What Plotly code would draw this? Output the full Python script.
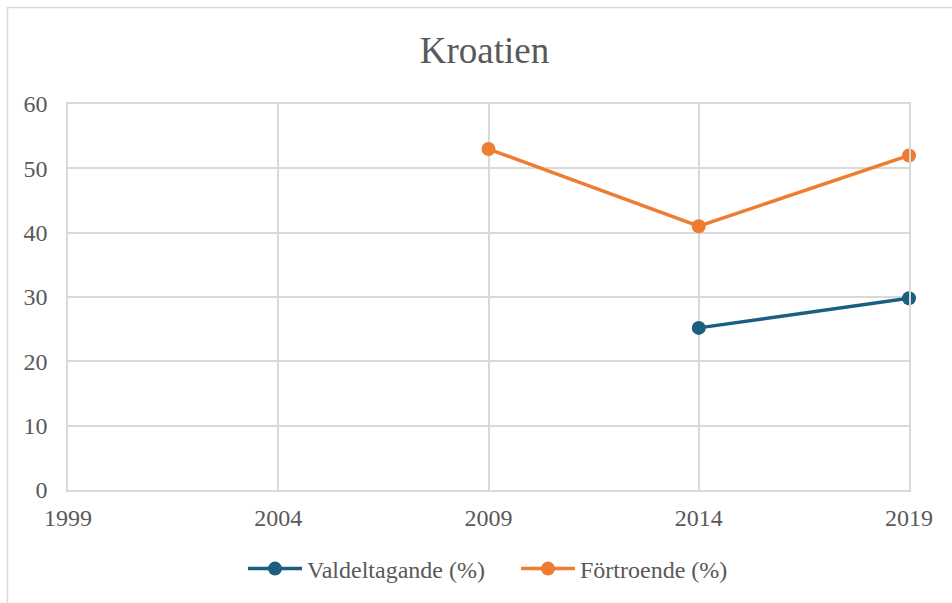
import plotly.graph_objects as go

years_val = [2014, 2019]
valdeltagande = [25.2, 29.8]
years_fort = [2009, 2014, 2019]
fortroende = [53, 41, 52]
x_ticks = [1999, 2004, 2009, 2014, 2019]
y_ticks = [0, 10, 20, 30, 40, 50, 60]

BLUE = "#1a5e80"
ORANGE = "#ed7d31"
GRID = "#d9d9d9"
TXT = "#595959"
FONT = '"Liberation Serif", "Times New Roman", Times, serif'

fig = go.Figure()
fig.add_trace(go.Scatter(x=years_val, y=valdeltagande, mode="lines+markers",
                         name="Valdeltagande (%)", cliponaxis=False,
                         line=dict(color=BLUE, width=3.5),
                         marker=dict(color=BLUE, size=14)))
fig.add_trace(go.Scatter(x=years_fort, y=fortroende, mode="lines+markers",
                         name="Förtroende (%)", cliponaxis=False,
                         line=dict(color=ORANGE, width=3.5),
                         marker=dict(color=ORANGE, size=14)))

L, R, T, B = 68, 909, 104, 490
W, H = 952, 603
pw, ph = R - L, B - T

fig.add_shape(type="rect", xref="paper", yref="paper",
              x0=(7.5 - L) / pw, x1=(W + 20 - L) / pw,
              y0=(B - (H + 20)) / ph, y1=(B - 7.5) / ph,
              line=dict(color=GRID, width=1.5), fillcolor="rgba(0,0,0,0)", layer="below")

fig.update_layout(
    width=W, height=H,
    margin=dict(l=L, r=W - R, t=T, b=H - B, autoexpand=False),
    paper_bgcolor="white", plot_bgcolor="white",
    font=dict(family=FONT, color=TXT, size=24),
    title=dict(text="Kroatien", x=484.5 / W, xanchor="center",
               y=1 - 50 / H, yanchor="middle",
               font=dict(family=FONT, size=37, color=TXT)),
    showlegend=True,
    legend=dict(orientation="h", x=0.5 + (516 - (L + R) / 2) / pw, xanchor="center",
                y=-(569 - B) / ph, yanchor="middle",
                font=dict(family=FONT, size=24, color=TXT),
                itemwidth=54, tracegroupgap=0,
                entrywidth=204, entrywidthmode="pixels"),
    xaxis=dict(range=[1999, 2019], tickvals=x_ticks, showgrid=True, gridcolor=GRID,
               gridwidth=1.5, showline=True, linecolor=GRID, linewidth=1.5, mirror=True,
               zeroline=False, ticks="", ticklabelstandoff=5,
               tickfont=dict(family=FONT, size=24, color=TXT)),
    yaxis=dict(range=[0, 60], tickvals=y_ticks, showgrid=True, gridcolor=GRID,
               gridwidth=1.5, showline=True, linecolor=GRID, linewidth=1.5, mirror=True,
               zeroline=False, ticks="", ticklabelstandoff=14,
               tickfont=dict(family=FONT, size=24, color=TXT)),
)

fig.write_html("out.html", config={"displayModeBar": False},
               post_script="document.body.style.margin='0';document.body.style.padding='0';")
